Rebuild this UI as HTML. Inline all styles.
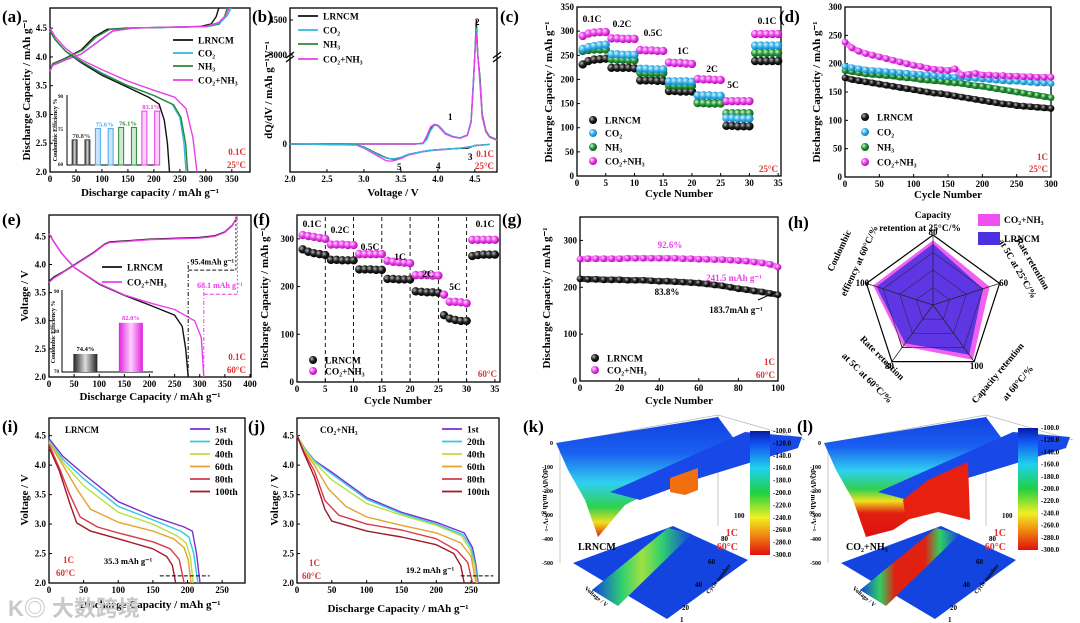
<!DOCTYPE html>
<html><head><meta charset="utf-8">
<style>
html,body{margin:0;padding:0;background:#fff;}
svg{display:block;font-family:"Liberation Serif","Noto Serif CJK SC",serif;font-weight:bold;}
</style></head>
<body>
<svg id="chart" xmlns="http://www.w3.org/2000/svg" width="1080" height="623" viewBox="0 0 1080 623">
<defs>
<radialGradient id="gk" cx="35%" cy="35%" r="65%"><stop offset="0" stop-color="#bbb"/><stop offset="0.5" stop-color="#222"/><stop offset="1" stop-color="#000"/></radialGradient>
<radialGradient id="gc" cx="35%" cy="35%" r="65%"><stop offset="0" stop-color="#e0f6ff"/><stop offset="0.5" stop-color="#3ab4ea"/><stop offset="1" stop-color="#1080c0"/></radialGradient>
<radialGradient id="gg" cx="35%" cy="35%" r="65%"><stop offset="0" stop-color="#d8f8d8"/><stop offset="0.5" stop-color="#2a9a3a"/><stop offset="1" stop-color="#106020"/></radialGradient>
<radialGradient id="gm" cx="35%" cy="35%" r="65%"><stop offset="0" stop-color="#ffe0ff"/><stop offset="0.5" stop-color="#ee44ee"/><stop offset="1" stop-color="#b010b0"/></radialGradient>
<linearGradient id="cbar" x1="0" y1="0" x2="0" y2="1">
<stop offset="0" stop-color="#0a1aa0"/><stop offset="0.1" stop-color="#1050f0"/><stop offset="0.3" stop-color="#20d0f0"/><stop offset="0.5" stop-color="#20d040"/><stop offset="0.7" stop-color="#f0f020"/><stop offset="0.85" stop-color="#f08010"/><stop offset="1" stop-color="#e01010"/></linearGradient>
<linearGradient id="sheetK" x1="0" y1="0" x2="0" y2="1">
<stop offset="0" stop-color="#1040e0"/><stop offset="0.3" stop-color="#1a60f0"/><stop offset="0.55" stop-color="#30d0f0"/><stop offset="0.75" stop-color="#30d050"/><stop offset="0.88" stop-color="#f0e020"/><stop offset="1" stop-color="#e02010"/></linearGradient>
<linearGradient id="sheetL" x1="0" y1="0" x2="0" y2="1">
<stop offset="0" stop-color="#1040e0"/><stop offset="0.25" stop-color="#1a60f0"/><stop offset="0.45" stop-color="#30d0f0"/><stop offset="0.6" stop-color="#30d050"/><stop offset="0.7" stop-color="#f0e020"/><stop offset="0.8" stop-color="#e02010"/><stop offset="1" stop-color="#e01010"/></linearGradient>
<linearGradient id="bandK" x1="0" y1="0" x2="1" y2="0">
<stop offset="0" stop-color="#1040e0"/><stop offset="0.3" stop-color="#30d070"/><stop offset="0.5" stop-color="#a0e040"/><stop offset="0.7" stop-color="#30d070"/><stop offset="1" stop-color="#1040e0"/></linearGradient>
<linearGradient id="bandL" x1="0" y1="0" x2="1" y2="0">
<stop offset="0" stop-color="#1040e0"/><stop offset="0.2" stop-color="#30d060"/><stop offset="0.35" stop-color="#e02010"/><stop offset="0.65" stop-color="#e02010"/><stop offset="0.8" stop-color="#30d060"/><stop offset="1" stop-color="#1040e0"/></linearGradient>
<linearGradient id="barK" x1="0" y1="0" x2="1" y2="0"><stop offset="0" stop-color="#222"/><stop offset="0.5" stop-color="#ddd"/><stop offset="1" stop-color="#222"/></linearGradient>
<linearGradient id="barM" x1="0" y1="0" x2="1" y2="0"><stop offset="0" stop-color="#e020e0"/><stop offset="0.5" stop-color="#ffd0ff"/><stop offset="1" stop-color="#e020e0"/></linearGradient>
</defs>
<rect x="0" y="0" width="1080" height="623" fill="#fff"/>

<text x="2" y="22" font-size="17">(a)</text>
<text x="252" y="22" font-size="17">(b)</text>
<text x="500" y="22" font-size="17">(c)</text>
<text x="779" y="22" font-size="17">(d)</text>
<text x="2" y="225" font-size="17">(e)</text>
<text x="253" y="225" font-size="17">(f)</text>
<text x="502" y="225" font-size="17">(g)</text>
<text x="788" y="228" font-size="17">(h)</text>
<text x="2" y="432" font-size="17">(i)</text>
<text x="248" y="432" font-size="17">(j)</text>
<text x="523" y="432" font-size="17">(k)</text>
<text x="797" y="432" font-size="17">(l)</text>

<text x="150" y="196" font-size="11" text-anchor="middle">Discharge capacity / mAh g⁻¹</text>
<text transform="translate(30,90) rotate(-90)" font-size="11" text-anchor="middle">Discharge Capacity / mAh g⁻¹</text>
<text x="393" y="196" font-size="11" text-anchor="middle">Voltage / V</text>
<text transform="translate(272,90) rotate(-90)" font-size="11" text-anchor="middle">dQ/dV / mAh g⁻¹V⁻¹</text>
<text x="679" y="197" font-size="11" text-anchor="middle">Cycle Number</text>
<text transform="translate(552,92) rotate(-90)" font-size="11" text-anchor="middle">Discharge Capacity / mAh g⁻¹</text>
<text x="948" y="198" font-size="11" text-anchor="middle">Cycle Number</text>
<text transform="translate(820,92) rotate(-90)" font-size="11" text-anchor="middle">Discharge Capacity / mAh g⁻¹</text>
<text x="150" y="400" font-size="11" text-anchor="middle">Discharge Capacity / mAh g⁻¹</text>
<text transform="translate(28,296) rotate(-90)" font-size="11" text-anchor="middle">Voltage / V</text>
<text x="398" y="404" font-size="11" text-anchor="middle">Cycle Number</text>
<text transform="translate(268,298) rotate(-90)" font-size="11" text-anchor="middle">Discharge Capacity / mAh g⁻¹</text>
<text x="679" y="404" font-size="11" text-anchor="middle">Cycle Number</text>
<text transform="translate(550,298) rotate(-90)" font-size="11" text-anchor="middle">Discharge Capacity / mAh g⁻¹</text>
<text x="150" y="608" font-size="11" text-anchor="middle">Discharge Capacity / mAh g⁻¹</text>
<text transform="translate(28,500) rotate(-90)" font-size="11" text-anchor="middle">Voltage / V</text>
<text x="398" y="612" font-size="11" text-anchor="middle">Discharge Capacity / mAh g⁻¹</text>
<text transform="translate(278,500) rotate(-90)" font-size="11" text-anchor="middle">Voltage / V</text>

<text x="246" y="155" font-size="9" fill="#e03030" text-anchor="end">0.1C</text>
<text x="246" y="168" font-size="9" fill="#e03030" text-anchor="end">25°C</text>
<text x="494" y="157" font-size="9" fill="#e03030" text-anchor="end">0.1C</text>
<text x="494" y="169" font-size="9" fill="#e03030" text-anchor="end">25°C</text>
<text x="448" y="120" font-size="9">1</text>
<text x="475" y="25" font-size="9">2</text>
<text x="468" y="160" font-size="9">3</text>
<text x="436" y="169" font-size="9">4</text>
<text x="397" y="170" font-size="9">5</text>
<text x="778" y="172" font-size="9" fill="#e03030" text-anchor="end">25°C</text>
<text x="1048" y="160" font-size="9" fill="#e03030" text-anchor="end">1C</text>
<text x="1048" y="172" font-size="9" fill="#e03030" text-anchor="end">25°C</text>
<text x="246" y="360" font-size="9" fill="#e03030" text-anchor="end">0.1C</text>
<text x="246" y="373" font-size="9" fill="#e03030" text-anchor="end">60°C</text>
<text x="497" y="377" font-size="9" fill="#e03030" text-anchor="end">60°C</text>
<text x="775" y="365" font-size="9" fill="#e03030" text-anchor="end">1C</text>
<text x="775" y="378" font-size="9" fill="#e03030" text-anchor="end">60°C</text>
<text x="65" y="433" font-size="9">LRNCM</text>
<text x="63" y="563" font-size="9" fill="#e03030">1C</text>
<text x="56" y="576" font-size="9" fill="#e03030">60°C</text>
<text x="320" y="433" font-size="9">CO₂+NH₃</text>
<text x="309" y="566" font-size="9" fill="#e03030">1C</text>
<text x="302" y="579" font-size="9" fill="#e03030">60°C</text>
<text x="8" y="616" font-size="22" fill="#c8c8c8" font-family="'Liberation Sans','Noto Sans CJK SC',sans-serif">K◎ 大数跨境</text>
<g id="plots"></g>
</svg>
<script>
const aDisCap_LR=[0,10,30,60,100,150,190,210,220,226,230];
const aDisV_LR=[4.45,4.3,4.1,3.9,3.68,3.47,3.3,3.18,2.9,2.5,2.0];
const aDisCap_CO=[0,10,30,60,100,150,200,235,250,258,262];
const aDisV_CO=[4.45,4.3,4.1,3.92,3.72,3.5,3.33,3.18,2.95,2.5,2.0];
const aDisCap_NH=[0,10,30,60,100,150,200,238,252,261,265];
const aDisV_NH=[4.45,4.3,4.1,3.92,3.71,3.5,3.33,3.17,2.95,2.5,2.0];
const aDisCap_CN=[0,10,30,60,100,150,200,240,262,275,283];
const aDisV_CN=[4.5,4.35,4.15,3.95,3.78,3.58,3.42,3.3,3.1,2.6,2.0];
const aChgCap_LR=[0,5,30,60,85,110,150,200,250,290,310,320,325];
const aChgV_LR=[3.75,3.88,3.98,4.12,4.35,4.48,4.5,4.51,4.52,4.53,4.57,4.7,4.85];
const aChgCap_CN=[0,5,30,60,90,120,160,200,250,300,325,338,345];
const aChgV_CN=[3.75,3.85,3.95,4.05,4.25,4.45,4.5,4.51,4.52,4.53,4.6,4.72,4.85];
const aInsetLabels=['70.8%','75.6%','76.1%','83.1%'];
const aInsetValues=[70.8,75.6,76.1,83.1];
const bChgV=[2.0,3.7,3.8,3.85,3.9,3.95,4.0,4.05,4.1,4.2,4.3,4.4,4.45,4.48,4.5,4.52,4.54,4.57,4.6,4.65,4.7,4.8];
const bChg_LR=[0,0,10,80,200,260,255,200,140,100,80,120,300,800,2400,4500,3000,900,400,180,100,60];
const bChg_CO=[0,0,5,60,180,250,255,210,150,105,85,125,320,850,2500,4100,2900,850,380,170,95,55];
const bChg_NH=[0,0,8,70,190,255,250,205,145,100,80,120,310,820,2450,4200,2950,870,390,175,100,58];
const bChg_CN=[0,0,15,110,230,265,240,190,135,95,78,115,290,780,2300,3900,2700,800,360,160,90,50];
const bDisV=[4.7,4.5,4.4,4.3,4.1,3.9,3.8,3.6,3.5,3.4,3.35,3.3,3.2,3.0,2.9,2.0];
const bDis_LR=[-5,-20,-60,-60,-70,-85,-100,-140,-185,-205,-200,-185,-140,-40,-10,0];
const bDis_CO=[-5,-25,-45,-55,-70,-85,-100,-140,-180,-200,-200,-190,-150,-45,-12,0];
const bDis_NH=[-5,-22,-50,-58,-70,-85,-100,-140,-182,-202,-200,-188,-145,-42,-11,0];
const bDis_CN=[-5,-25,-40,-55,-75,-90,-105,-150,-195,-225,-230,-225,-170,-55,-15,0];
const cCycles=[1,2,3,4,5,6,7,8,9,10,11,12,13,14,15,16,17,18,19,20,21,22,23,24,25,26,27,28,29,30,31,32,33,34,35];
const c_LR=[231,238,241,242,243,224,224,224,224,223,198,198,198,197,197,176,176,175,175,175,152,151,151,151,151,104,104,103,103,103,238,238,238,238,238];
const c_CO=[263,267,269,271,272,252,252,251,251,251,222,222,221,221,221,196,196,196,196,195,167,167,167,166,166,120,120,119,119,119,270,270,270,270,270];
const c_NH=[259,261,262,262,262,242,241,241,240,240,214,213,213,213,213,188,187,187,187,187,151,151,150,150,150,130,130,130,130,130,255,255,255,255,255];
const c_CN=[290,295,297,298,298,285,285,284,284,284,261,260,260,259,259,235,234,234,233,232,201,200,200,199,199,155,155,155,155,155,294,294,294,294,294];
const cRateLabels=['0.1C','0.2C','0.5C','1C','2C','5C','0.1C'];
const dCycles=[0,10,20,30,40,50,60,70,80,90,100,110,120,130,140,150,160,170,180,190,200,210,220,230,240,250,260,270,280,290,300];
const d_LR=[175,172,170,168,166,164,162,160,158,156,154,152,150,148,147,145,143,141,139,137,135,133,131,129,128,126,125,124,123,122,121];
const d_CO=[195,193,191,189,188,187,186,185,184,183,182,181,180,179,178,177,176,176,175,174,173,172,171,170,169,169,168,167,166,166,165];
const d_NH=[188,186,184,182,181,180,179,178,176,175,174,172,171,170,169,167,166,165,163,161,160,158,156,154,152,150,148,146,144,142,140];
const d_CN=[238,228,222,218,215,212,209,206,203,200,197,195,192,190,189,188,191,180,181,183,180,180,179,179,178,178,177,177,176,176,176];
const eDisCap_LR=[0,10,25,50,100,150,200,250,265,272,277];
const eDisV_LR=[4.55,4.4,4.2,3.95,3.65,3.45,3.28,3.1,2.9,2.5,2.0];
const eDisCap_CN=[0,10,25,50,100,150,200,250,290,303,308];
const eDisV_CN=[4.55,4.4,4.2,3.95,3.66,3.46,3.32,3.2,3.0,2.7,2.0];
const eChgCap=[0,10,30,60,90,110,120,200,300,330,350,365,375];
const eChgV_LR=[3.7,3.78,3.88,4.05,4.22,4.36,4.4,4.45,4.48,4.51,4.58,4.7,4.85];
const eChgV_CN=[3.68,3.76,3.87,4.04,4.21,4.35,4.39,4.44,4.47,4.5,4.57,4.69,4.85];
const eInsetLabels=['74.4%','82.0%'];
const eInsetValues=[74.4,82.0];
const fCycles=cCycles;
const f_LR=[278,273,270,268,266,256,256,255,255,255,236,236,236,235,235,216,216,215,215,215,190,189,188,188,187,140,133,130,128,128,264,266,267,267,267];
const f_CN=[308,306,304,302,300,288,288,288,287,287,268,268,268,268,268,254,252,251,250,249,224,224,224,223,223,183,168,168,167,165,298,298,298,298,298];
const fRateLabels=['0.1C','0.2C','0.5C','1C','2C','5C','0.1C'];
const gCycles=[0,4,8,12,16,20,24,28,32,36,40,44,48,52,56,60,64,68,72,76,80,84,88,92,96,100];
const g_LR=[218,217,217,216,216,216,215,215,215,214,213,213,212,211,210,209,207,205,203,200,197,195,192,190,187,184];
const g_CN=[260,261,261,261,261,261,262,262,262,262,262,262,262,261,261,260,260,259,259,258,257,256,254,252,249,243];
const hAxes=['Capacity retention at 25°C/%','Rate retention at 5C at 25°C/%','Capacity retention at 60°C/%','Rate retention at 5C at 60°C/%','Coulombic effiency at 60°C/%'];
const hAxisMax=[80,60,100,80,100];
const h_CN=[74,51,97,58,90];
const h_LR=[70,45,88,54,85];
const iLabels=['1st','20th','40th','60th','80th','100th'];
const iCap=[
 [0,20,50,100,150,195,207,213,218],
 [0,20,50,100,150,190,202,209,215],
 [0,20,50,100,150,185,198,204,208],
 [0,20,40,60,100,150,180,195,201,205],
 [0,15,30,45,70,100,150,175,188,195],
 [0,15,30,40,60,100,150,170,178,183]];
const iV=[
 [4.45,4.15,3.85,3.38,3.13,2.95,2.88,2.5,2.0],
 [4.42,4.1,3.77,3.3,3.07,2.88,2.78,2.5,2.0],
 [4.4,4.05,3.65,3.2,3.0,2.8,2.68,2.45,2.0],
 [4.38,4.0,3.6,3.25,3.03,2.88,2.75,2.6,2.4,2.0],
 [4.35,3.95,3.5,3.12,2.95,2.85,2.7,2.58,2.4,2.0],
 [4.3,3.9,3.35,3.02,2.88,2.75,2.58,2.45,2.3,2.0]];
const jCap=[
 [0,10,25,50,100,150,200,240,252,257,260],
 [0,10,25,50,100,150,200,238,250,256,259],
 [0,10,25,50,100,150,200,236,248,255,258],
 [0,10,25,45,70,100,150,200,235,250,257],
 [0,10,25,40,60,100,150,200,230,245,252],
 [0,10,25,40,50,100,150,200,225,235,240]];
const jV=[
 [4.5,4.3,4.08,3.88,3.45,3.2,3.03,2.85,2.6,2.3,2.0],
 [4.5,4.3,4.07,3.85,3.42,3.18,3.0,2.82,2.6,2.3,2.0],
 [4.5,4.28,4.05,3.75,3.35,3.15,2.98,2.8,2.58,2.3,2.0],
 [4.5,4.25,4.0,3.6,3.3,3.12,2.98,2.85,2.68,2.45,2.0],
 [4.5,4.22,3.9,3.4,3.15,3.0,2.9,2.75,2.55,2.35,2.0],
 [4.5,4.2,3.8,3.25,3.05,2.88,2.78,2.65,2.5,2.3,2.0]];
const cycleColors=['#7a30d0','#30c8e8','#b8e040','#e8a030','#d83a4a','#a01828'];
const cbLabels=['-100.0','-120.0','-140.0','-160.0','-180.0','-200.0','-220.0','-240.0','-260.0','-280.0','-300.0'];

const NS='http://www.w3.org/2000/svg';
const G=document.getElementById('plots');
function mk(tag,attrs){const e=document.createElementNS(NS,tag);for(const k in attrs)e.setAttribute(k,attrs[k]);G.appendChild(e);return e;}
function tx(x,y,s,size,anchor,fill){const t=mk('text',{x:x,y:y,'font-size':size,'text-anchor':anchor||'start',fill:fill||'#000'});t.textContent=s;return t;}
function panel(x0,x1,y0,y1,xmin,xmax,ymin,ymax){return {x0,x1,y0,y1,sx:v=>x0+(v-xmin)/(xmax-xmin)*(x1-x0),sy:v=>y1-(v-ymin)/(ymax-ymin)*(y1-y0)};}
function axes(P,xt,yt,xd,yd,pre){
  const f=mk('rect',{x:P.x0,y:P.y0,width:P.x1-P.x0,height:P.y1-P.y0,fill:'none',stroke:'#000','stroke-width':1.3});
  
  
  xt.forEach(v=>{const x=P.sx(v);
    const l=mk('line',{x1:x,x2:x,y1:P.y1,y2:P.y1-3,stroke:'#000','stroke-width':1});
    
    
    const t=tx(x,P.y1+10,v.toFixed(xd),9,'middle');
    
    });
  yt.forEach(v=>{const y=P.sy(v);
    const l=mk('line',{x1:P.x0,x2:P.x0+3,y1:y,y2:y,stroke:'#000','stroke-width':1});
    
    
    const t=tx(P.x0-3,y+3,v.toFixed(yd),9,'end');
    
    });
}
function line(P,xs,ys,color,w,name,dash){
  const d=xs.map((x,i)=>(i?'L':'M')+P.sx(x).toFixed(1)+','+P.sy(ys[i]).toFixed(1)).join('');
  const p=mk('path',{d:d,fill:'none',stroke:color,'stroke-width':w||1.4,'stroke-linejoin':'round'});
  if(dash)p.setAttribute('stroke-dasharray',dash);
  
  
  return p;
}
function dots(P,xs,ys,grad,r,name){
  xs.forEach((x,i)=>{const c=mk('circle',{cx:P.sx(x),cy:P.sy(ys[i]),r:r,fill:'url(#'+grad+')'});
    
    });
}
function legLine(x,y,color,label,name){
  const l=mk('line',{x1:x,x2:x+20,y1:y,y2:y,stroke:color,'stroke-width':1.8});
  
  
  const t=tx(x+25,y+3.5,label,9.5,'start');
  
  
}
function legDot(x,y,grad,label,name){
  const c=mk('circle',{cx:x,cy:y,r:4,fill:'url(#'+grad+')'});
  
  
  const t=tx(x+12,y+3.5,label,9.5,'start');
  
  
}
function note(x,y,s,size,anchor,fill,name){const t=tx(x,y,s,size,anchor,fill);
  
  return t;}

const K='#111',CY='#30b8e0',GR='#2a8a3a',MG='#e840e8';

const A=panel(50,250,8,172,0,385,2.0,4.85);
axes(A,[0,50,100,150,200,250,300,350],[2.0,2.5,3.0,3.5,4.0,4.5],0,1,'a');
line(A,aChgCap_LR,aChgV_LR,K,1.4,'a-charge-lrncm');
line(A,aChgCap_LR.map(v=>v*1.05),aChgV_LR,GR,1.4,'a-charge-nh3');
line(A,aChgCap_CN.map(v=>v*1.01),aChgV_CN,CY,1.4,'a-charge-co2');
line(A,aChgCap_CN,aChgV_CN,MG,1.4,'a-charge-co2-nh3');
line(A,aDisCap_LR,aDisV_LR,K,1.4,'a-discharge-lrncm');
line(A,aDisCap_CO,aDisV_CO,CY,1.4,'a-discharge-co2');
line(A,aDisCap_NH,aDisV_NH,GR,1.4,'a-discharge-nh3');
line(A,aDisCap_CN,aDisV_CN,MG,1.4,'a-discharge-co2-nh3');
legLine(173,40,K,'LRNCM','a-legend-lrncm');
legLine(173,53,CY,'CO₂','a-legend-co2');
legLine(173,66,GR,'NH₃','a-legend-nh3');
legLine(173,80,MG,'CO₂+NH₃','a-legend-co2-nh3');
const AI=panel(67,160,95,165,0,4,60,90);
{const ax=mk('path',{d:'M67,95L67,165L160,165',fill:'none',stroke:'#000','stroke-width':1});
 
 
 note(63,166,'60',5,'end','#000','a-inset-tick');note(63,131,'75',5,'end','#000','a-inset-tick');note(63,98,'90',5,'end','#000','a-inset-tick');
 const yl=note(0,0,'Coulombic Efficiency %',6,'middle','#000','a-inset-y-title');yl.setAttribute('transform','translate(57,130) rotate(-90)');
 const cols=['#444','#4aa8e8','#2a8a3a','#e040e0'];
 const fills=['url(#barK)','#c8e4ff','#cfeacf','#ffd0ff'];
 aInsetValues.forEach((v,i)=>{
   [0.35,0.9].forEach(o=>{const x=AI.sx(i+o)-3;
     const b=mk('rect',{x:x,y:AI.sy(v),width:5,height:165-AI.sy(v),fill:fills[i],stroke:cols[i],'stroke-width':1});
     
     });
   note(AI.sx(i+0.62),AI.sy(v)-2,aInsetLabels[i],6.5,'middle',cols[i],'a-inset-bar-label');
 });}

const B=panel(290,497,8,172,2.0,4.8,0,1);
B.sy=v=>v<=1200?144-v*89/1200:(v>=3000?55-(v-3000)*35/1500:55);
axes(B,[2.0,2.5,3.0,3.5,4.0,4.5],[],1,0,'b');
[[0,'0'],[3000,'3000'],[4500,'4500']].forEach(p=>{const y=B.sy(p[0]);
  const l=mk('line',{x1:290,x2:293,y1:y,y2:y,stroke:'#000'});
  
  
  note(287,y+3,p[1],9,'end','#000','b-y-tick-label');});
['290','497'].forEach(x=>{const br=mk('path',{d:'M'+(x-4)+',58L'+(+x+4)+',52M'+(x-4)+',62L'+(+x+4)+',56',stroke:'#000','stroke-width':1.2,fill:'none'});
  
  });
line(B,bChgV,bChg_LR,K,1.3,'b-charge-lrncm');
line(B,bChgV,bChg_NH,GR,1.3,'b-charge-nh3');
line(B,bChgV,bChg_CO,CY,1.3,'b-charge-co2');
line(B,bChgV,bChg_CN,MG,1.3,'b-charge-co2-nh3');
line(B,bDisV,bDis_LR,K,1.3,'b-discharge-lrncm');
line(B,bDisV,bDis_NH,GR,1.3,'b-discharge-nh3');
line(B,bDisV,bDis_CN,MG,1.3,'b-discharge-co2-nh3');
line(B,bDisV,bDis_CO,CY,1.3,'b-discharge-co2');
legLine(298,16,K,'LRNCM','b-legend-lrncm');
legLine(298,30,CY,'CO₂','b-legend-co2');
legLine(298,44,GR,'NH₃','b-legend-nh3');
legLine(298,59,MG,'CO₂+NH₃','b-legend-co2-nh3');

const C=panel(577,781,7,176,0,35.5,0,350);
axes(C,[0,5,10,15,20,25,30,35],[0,50,100,150,200,250,300,350],0,0,'c');
dots(C,cCycles,c_LR,'gk',4.2,'c-point-lrncm');
dots(C,cCycles,c_NH,'gg',4.2,'c-point-nh3');
dots(C,cCycles,c_CO,'gc',4.2,'c-point-co2');
dots(C,cCycles,c_CN,'gm',4.2,'c-point-co2-nh3');
[[592,22],[622,27],[653,36],[683,54],[712,72],[733,88],[767,24]].forEach((p,i)=>note(p[0],p[1],cRateLabels[i],9.5,'middle','#000','c-rate-label'));
legDot(593,120,'gk','LRNCM','c-legend-lrncm');
legDot(593,133,'gc','CO₂','c-legend-co2');
legDot(593,147,'gg','NH₃','c-legend-nh3');
legDot(593,161,'gm','CO₂+NH₃','c-legend-co2-nh3');

const D=panel(845,1051,7,177,0,300,0,300);
axes(D,[0,50,100,150,200,250,300],[0,50,100,150,200,250,300],0,0,'d');
line(D,dCycles,d_LR,'#333',6,'d-line-lrncm');
line(D,dCycles,d_NH,'#2a8a3a',6,'d-line-nh3');
line(D,dCycles,d_CO,'#7cc8ee',6,'d-line-co2');
line(D,dCycles,d_CN,'#f07af0',6,'d-line-co2-nh3');
dots(D,dCycles,d_LR,'gk',3.4,'d-point-lrncm');
dots(D,dCycles,d_NH,'gg',3.4,'d-point-nh3');
dots(D,dCycles,d_CO,'gc',3.4,'d-point-co2');
dots(D,dCycles,d_CN,'gm',3.4,'d-point-co2-nh3');
legDot(865,117,'gk','LRNCM','d-legend-lrncm');
legDot(865,132,'gc','CO₂','d-legend-co2');
legDot(865,147,'gg','NH₃','d-legend-nh3');
legDot(865,162,'gm','CO₂+NH₃','d-legend-co2-nh3');

const E=panel(49,251,215,377,0,402,2.0,4.88);
axes(E,[0,50,100,150,200,250,300,350,400],[2.0,2.5,3.0,3.5,4.0,4.5],0,1,'e');
line(E,eChgCap,eChgV_LR,K,1.4,'e-charge-lrncm');
line(E,eChgCap,eChgV_CN,MG,1.4,'e-charge-co2-nh3');
line(E,eDisCap_LR,eDisV_LR,K,1.4,'e-discharge-lrncm');
line(E,eDisCap_CN,eDisV_CN,MG,1.4,'e-discharge-co2-nh3');
line(E,[eDisCap_LR[10],eDisCap_LR[10]],[2.0,4.05],K,1,'e-guide-lrncm','4,2,1,2');
line(E,[eDisCap_CN[10],eDisCap_CN[10]],[2.0,3.6],MG,1,'e-guide-co2-nh3','4,2,1,2');
line(E,[375,375],[3.5,4.85],MG,1,'e-guide-end','2,2');
line(E,[372,372],[3.9,4.85],K,1,'e-guide-end-black','2,2');
line(E,[eDisCap_LR[10],372],[3.9,3.9],K,1,'e-arrow-lrncm','4,2');
line(E,[eDisCap_CN[10],375],[3.47,3.47],MG,1,'e-arrow-co2-nh3','4,2');
note(E.sx(325),E.sy(4.0),'95.4mAh g⁻¹',8,'middle','#000','e-annotation-lrncm');
note(E.sx(340),E.sy(3.58),'68.1 mAh g⁻¹',8,'middle',MG,'e-annotation-co2-nh3');
legLine(102,267,K,'LRNCM','e-legend-lrncm');
legLine(102,282,MG,'CO₂+NH₃','e-legend-co2-nh3');
const EI=panel(62,153,290,372,0,2,70,90);
{const ax=mk('path',{d:'M62,290L62,372L153,372',fill:'none',stroke:'#000','stroke-width':1});
 
 
 note(59,373,'70',5,'end','#000','e-inset-tick');note(59,333,'80',5,'end','#000','e-inset-tick');note(59,293,'90',5,'end','#000','e-inset-tick');
 const yl=note(0,0,'Coulombic Efficiency %',6,'middle','#000','e-inset-y-title');yl.setAttribute('transform','translate(55,332) rotate(-90)');
 const fl=['url(#barK)','url(#barM)'],tc=['#000',MG];
 eInsetValues.forEach((v,i)=>{const x=EI.sx(i+0.25);
   const b=mk('rect',{x:x,y:EI.sy(v),width:24,height:372-EI.sy(v),fill:fl[i]});
   
   
   note(x+12,EI.sy(v)-3,eInsetLabels[i],6.5,'middle',tc[i],'e-inset-bar-label');});}

const F=panel(297,500,215,382,0,35.9,0,350);
axes(F,[0,5,10,15,20,25,30,35],[0,100,200,300],0,0,'f');
[5,10,15,20,25,30].forEach(c=>line(F,[c,c],[0,350],'#000',0.9,'f-rate-divider','4,3'));
dots(F,fCycles,f_LR,'gk',4.2,'f-point-lrncm');
dots(F,fCycles,f_CN,'gm',4.2,'f-point-co2-nh3');
[[312,227],[340,233],[370,250],[400,260],[428,277],[455,290],[485,227]].forEach((p,i)=>note(p[0],p[1],fRateLabels[i],9.5,'middle','#000','f-rate-label'));
legDot(313,360,'gk','LRNCM','f-legend-lrncm');
legDot(313,371,'gm','CO₂+NH₃','f-legend-co2-nh3');

const Gp=panel(580,778,217,381,0,100,0,350);
axes(Gp,[0,20,40,60,80,100],[0,100,200,300],0,0,'g');
line(Gp,gCycles,g_LR,'#333',6,'g-line-lrncm');
line(Gp,gCycles,g_CN,'#f07af0',6,'g-line-co2-nh3');
dots(Gp,gCycles,g_LR,'gk',3.4,'g-point-lrncm');
dots(Gp,gCycles,g_CN,'gm',3.4,'g-point-co2-nh3');
note(670,248,'92.6%',9,'middle',MG,'g-retention-co2-nh3');
note(667,295,'83.8%',9,'middle','#000','g-retention-lrncm');
note(734,281,'241.5 mAh g⁻¹',9,'middle',MG,'g-final-co2-nh3');
note(736,313,'183.7mAh g⁻¹',9,'middle','#000','g-final-lrncm');
{const a1=mk('path',{d:'M758,300L776,292',stroke:'#000','stroke-width':1,fill:'none'});
 
 }
legDot(595,358,'gk','LRNCM','g-legend-lrncm');
legDot(595,370,'gm','CO₂+NH₃','g-legend-co2-nh3');

const HC={x:933,y:305,R:70};
function hPt(i,f){const a=-Math.PI/2+i*2*Math.PI/5;return [HC.x+HC.R*f*Math.cos(a),HC.y+HC.R*f*Math.sin(a)];}
[1,0.75,0.5,0.25].forEach(f=>{const pts=[0,1,2,3,4].map(i=>hPt(i,f).map(v=>v.toFixed(1)).join(',')).join(' ');
  const pg=mk('polygon',{points:pts,fill:'none',stroke:'#000','stroke-width':f===1?1.2:0.8});
  
  });
{const pts=h_CN.map((v,i)=>hPt(i,v/hAxisMax[i]).map(n=>n.toFixed(1)).join(',')).join(' ');
 const pg=mk('polygon',{points:pts,fill:'#f050f0','fill-opacity':0.9});
 
 }
{const pts=h_LR.map((v,i)=>hPt(i,v/hAxisMax[i]).map(n=>n.toFixed(1)).join(',')).join(' ');
 const pg=mk('polygon',{points:pts,fill:'#4a30e0','fill-opacity':0.88});
 
 }
[0.75,0.5,0.25].forEach(f=>{const pts=[0,1,2,3,4].map(i=>hPt(i,f).map(v=>v.toFixed(1)).join(',')).join(' ');
  const pg=mk('polygon',{points:pts,fill:'none',stroke:'#222','stroke-width':0.7,'stroke-opacity':0.7});
  
  });
[0,1,2,3,4].forEach(i=>{const p=hPt(i,1);
  const l=mk('line',{x1:HC.x,y1:HC.y,x2:p[0],y2:p[1],stroke:'#222','stroke-width':0.7});
  
  
  const q=hPt(i,1.06);note(q[0],q[1]+4,String(hAxisMax[i]),9,'middle','#000','h-axis-max-label');});
{note(933,218,'Capacity',9.5,'middle','#000','h-axis-title-1');
 note(920,231,'retention at 25°C/%',9.5,'middle','#000','h-axis-title-1b');
 const t3=note(0,0,'Rate retention',9.5,'middle','#000','h-axis-title-2');t3.setAttribute('transform','translate(1030,265) rotate(60)');
 const t4=note(0,0,'at 5C at 25°C/%',9.5,'middle','#000','h-axis-title-2b');t4.setAttribute('transform','translate(1015,270) rotate(60)');
 const t5=note(0,0,'Capacity retention',9.5,'middle','#000','h-axis-title-3');t5.setAttribute('transform','translate(1000,375) rotate(-50)');
 const t6=note(0,0,'at 60°C/%',9.5,'middle','#000','h-axis-title-3b');t6.setAttribute('transform','translate(1020,385) rotate(-50)');
 const t7=note(0,0,'Rate retention',9.5,'middle','#000','h-axis-title-4');t7.setAttribute('transform','translate(880,360) rotate(45)');
 const t8=note(0,0,'at 5C at 60°C/%',9.5,'middle','#000','h-axis-title-4b');t8.setAttribute('transform','translate(865,380) rotate(45)');
 const t9=note(0,0,'Coulombic',9.5,'middle','#000','h-axis-title-5');t9.setAttribute('transform','translate(842,252) rotate(-65)');
 const t10=note(0,0,'effiency at 60°C/%',9.5,'middle','#000','h-axis-title-5b');t10.setAttribute('transform','translate(862,262) rotate(-65)');}
{const r1=mk('rect',{x:978,y:214,width:22,height:12,fill:'#f050f0'});
 
 
 const r2=mk('rect',{x:978,y:232,width:22,height:13,fill:'#4a30e0'});
 
 
 note(1004,223,'CO₂+NH₃',9.5,'start','#000','h-legend-co2-nh3');
 note(1004,242,'LRNCM',9.5,'start','#000','h-legend-lrncm');}

const I=panel(49,245,418,583,0,283,2.0,4.8);
axes(I,[0,50,100,150,200,250],[2.0,2.5,3.0,3.5,4.0,4.5],0,1,'i');
iCap.forEach((c,k)=>line(I,c,iV[k],cycleColors[k],1.4,'i-curve-'+iLabels[k]));
iLabels.forEach((s,k)=>legLine(190,429+k*12.5,cycleColors[k],s,'i-legend-'+s));
line(I,[160,232],[2.12,2.12],'#000',1,'i-dashed-arrow','4,2');
note(128,564,'35.3 mAh g⁻¹',8.5,'middle','#000','i-annotation');

const J=panel(297,499,418,583,0,290,2.0,4.8);
axes(J,[0,50,100,150,200,250],[2.0,2.5,3.0,3.5,4.0,4.5],0,1,'j');
jCap.forEach((c,k)=>line(J,c,jV[k],cycleColors[k],1.4,'j-curve-'+iLabels[k]));
iLabels.forEach((s,k)=>legLine(442,429+k*12.5,cycleColors[k],s,'j-legend-'+s));
line(J,[235,282],[2.12,2.12],'#000',1,'j-dashed-arrow','4,2');
note(430,573,'19.2 mAh g⁻¹',8.5,'middle','#000','j-annotation');

function surface(ox,grad,band,label,redPatch,pre){
  const box=mk('path',{d:`M${ox+20},443L${ox+20},563M${ox+20},443L${ox+178},415L${ox+265},440M${ox+178},415L${ox+178},526`,stroke:'#bbb','stroke-width':0.8,fill:'none'});
  
  
  const fl=mk('polygon',{points:`${ox+33},563 ${ox+133},526 ${ox+208},560 ${ox+127},619`,fill:'#1444e0'});
  
  
  const bd=mk('polygon',{points:`${ox+52},590 ${ox+128},528 ${ox+152},534 ${ox+78},606`,fill:'url(#'+band+')'});
  
  
  const sh=mk('polygon',{points:`${ox+16},443 ${ox+178},417 ${ox+195},440 ${ox+170},468 ${ox+130},${redPatch?500:482} ${ox+85},${redPatch?530:505} ${ox+58},537 ${ox+45},500 ${ox+28},470`,fill:'url(#'+grad+')'});
  
  
  const rg=mk('polygon',{points:`${ox+70},492 ${ox+205},432 ${ox+262},437 ${ox+258},448 ${ox+160},478 ${ox+100},500`,fill:'#1848e8'});
  
  
  if(redPatch){const rp=mk('polygon',{points:`${ox+120},480 ${ox+160},462 ${ox+162},520 ${ox+130},512 ${ox+98},520 ${ox+95},500`,fill:'#e82010'});
    
    }
  else{const rp=mk('polygon',{points:`${ox+130},478 ${ox+158},468 ${ox+158},490 ${ox+145},495 ${ox+130},492`,fill:'#f07010'});
    
    }
  ['0','-100','-200','-300','-400','-500'].forEach((s,i)=>note(ox+13,445+i*24,s,6,'end','#000',pre+'-z-tick-label'));
  ['20','40','60','80','100'].forEach((s,i)=>note(ox+142+i*13,610-i*23,s,7,'start','#000',pre+'-cycle-tick-label'));
  note(ox+140,622,'1',7,'start','#000',pre+'-cycle-tick-label');
  const cz=note(0,0,'Cycle number',6,'middle','#000',pre+'-cycle-title');cz.setAttribute('transform',`translate(${ox+180},580) rotate(-52)`);
  const vz=note(0,0,'Voltage / V',6,'middle','#000',pre+'-voltage-title');vz.setAttribute('transform',`translate(${ox+55},598) rotate(40)`);
  const zt=note(0,0,'dQ/dV / mAh g⁻¹V⁻¹',7,'middle','#000',pre+'-z-title');zt.setAttribute('transform',`translate(${ox+3},500) rotate(90)`);
  note(ox+38,550,label,10,'start','#000',pre+'-sample-label');
  note(ox+198,536,'1C',10,'end','#e03030',pre+'-rate-label');
  note(ox+198,550,'60°C',10,'end','#e03030',pre+'-temp-label');
}
surface(540,'sheetK','bandK','LRNCM',false,'k');
surface(808,'sheetL','bandL','CO₂+NH₃',true,'l');
function colorbar(x,y0,y1,pre){
  const r=mk('rect',{x:x,y:y0,width:20,height:y1-y0,fill:'url(#cbar)'});
  
  
  cbLabels.forEach((s,i)=>note(x+23,y0+2+i*(y1-y0)/(cbLabels.length-1),s,7,'start','#000',pre+'-colorbar-label'));
}
colorbar(750,431,555,'k');
colorbar(1018,428,550,'l');
</script>
</body></html>
